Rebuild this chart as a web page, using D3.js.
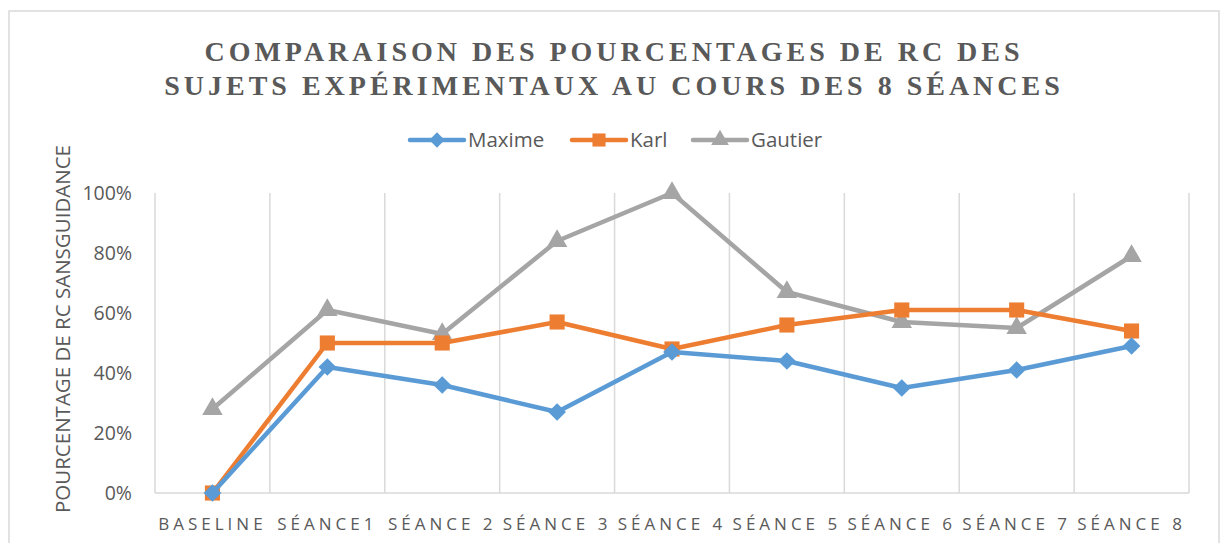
<!DOCTYPE html>
<html>
<head>
<meta charset="utf-8">
<script src="https://cdn.jsdelivr.net/npm/d3@7"></script>
<style>
  body { margin: 0; background: #fff; }
  svg { display: block; }
</style>
</head>
<body>
<div id="chart"></div>
<script>
// categories and series
var categories = ["BASELINE", "SÉANCE1", "SÉANCE 2", "SÉANCE 3", "SÉANCE 4", "SÉANCE 5", "SÉANCE 6", "SÉANCE 7", "SÉANCE 8"];
var maxime = [0, 42, 36, 27, 47, 44, 35, 41, 49];
var karl = [0, 50, 50, 57, 48, 56, 61, 61, 54];
var gautier = [28, 61, 53, 84, 100, 67, 57, 55, 79];
var yTicks = [0, 20, 40, 60, 80, 100];
var seriesNames = ["Maxime", "Karl", "Gautier"];

var width = 1224, height = 543;
var margin = {left: 155, right: 35, top: 193, bottom: 50};

var svg = d3.select("#chart").append("svg")
  .attr("width", width)
  .attr("height", height);

// chart border
svg.append("rect")
  .attr("x", 9).attr("y", 11)
  .attr("width", 1210).attr("height", 560)
  .attr("fill", "none")
  .attr("stroke", "#d9d9d9")
  .attr("stroke-width", 1.5);

// title
var title = svg.append("text")
  .attr("text-anchor", "middle")
  .style("font-family", "'Liberation Serif', 'Times New Roman', serif")
  .style("font-weight", "bold")
  .style("font-size", "28px")
  .style("letter-spacing", "4px")
  .attr("fill", "#595959");
title.append("tspan").attr("x", 614).attr("y", 61).text("COMPARAISON DES POURCENTAGES DE RC DES");
title.append("tspan").attr("x", 614).attr("y", 95).text("SUJETS EXPÉRIMENTAUX AU COURS DES 8 SÉANCES");

var x = d3.scaleBand()
  .domain(categories)
  .range([margin.left, width - margin.right]);

var y = d3.scaleLinear()
  .domain([0, 100])
  .range([height - margin.bottom, margin.top]);

// vertical gridlines at band edges
var edges = categories.map(function(c) { return x(c); }).concat([x.range()[1]]);
svg.selectAll(".vgrid")
  .data(edges)
  .enter().append("line")
  .attr("x1", function(d) { return d; })
  .attr("x2", function(d) { return d; })
  .attr("y1", y(100))
  .attr("y2", y(0))
  .attr("stroke", "#d9d9d9")
  .attr("stroke-width", 1.5);

// bottom axis line
svg.append("line")
  .attr("x1", x.range()[0]).attr("x2", x.range()[1])
  .attr("y1", y(0)).attr("y2", y(0))
  .attr("stroke", "#d9d9d9")
  .attr("stroke-width", 1.5);

// y tick labels
svg.selectAll(".ytick")
  .data(yTicks)
  .enter().append("text")
  .attr("x", 132)
  .attr("y", function(d) { return y(d); })
  .attr("dy", "0.35em")
  .attr("text-anchor", "end")
  .style("font-family", "'Open Sans', 'Noto Sans', sans-serif")
  .style("font-size", "19.5px")
  .attr("fill", "#595959")
  .text(function(d) { return d + "%"; });

// x labels
svg.selectAll(".xlab")
  .data(categories)
  .enter().append("text")
  .attr("x", function(d) { return x(d) + x.bandwidth() / 2; })
  .attr("y", 530)
  .attr("text-anchor", "middle")
  .style("font-family", "'Open Sans', 'Noto Sans', sans-serif")
  .style("font-size", "17px")
  .style("letter-spacing", "4px")
  .attr("fill", "#595959")
  .text(function(d) { return d; });

// y axis title
svg.append("text")
  .attr("transform", "translate(70," + 329 + ") rotate(-90)")
  .attr("text-anchor", "middle")
  .style("font-family", "'Open Sans', 'Noto Sans', sans-serif")
  .style("font-size", "20.5px")
  .attr("fill", "#595959")
  .text("POURCENTAGE DE RC SANSGUIDANCE");

var colors = {Maxime: "#5b9bd5", Karl: "#ed7d31", Gautier: "#a5a5a5"};
var symbols = {Maxime: d3.symbolDiamond2, Karl: d3.symbolSquare2, Gautier: d3.symbolTriangle2};
var symbolSize = {Maxime: 200, Karl: 290, Gautier: 300};
var seriesData = {Maxime: maxime, Karl: karl, Gautier: gautier};

var line = d3.line()
  .x(function(d, i) { return x(categories[i]) + x.bandwidth() / 2; })
  .y(function(d) { return y(d); });

// draw Gautier first, then Karl, then Maxime on top
["Gautier", "Karl", "Maxime"].forEach(function(name) {
  var vals = seriesData[name];
  svg.append("path")
    .datum(vals)
    .attr("d", line)
    .attr("fill", "none")
    .attr("stroke", colors[name])
    .attr("stroke-width", 4.5)
    .attr("stroke-linejoin", "round");
  svg.selectAll(".pt-" + name)
    .data(vals)
    .enter().append("path")
    .attr("d", d3.symbol().type(symbols[name]).size(symbolSize[name]))
    .attr("transform", function(d, i) {
      return "translate(" + (x(categories[i]) + x.bandwidth() / 2) + "," + y(d) + ")";
    })
    .attr("fill", colors[name]);
});

// legend
var legendX = [410, 572, 693];
seriesNames.forEach(function(name, i) {
  var g = svg.append("g").attr("transform", "translate(" + legendX[i] + ",140)");
  g.append("line")
    .attr("x1", 0).attr("x2", 54)
    .attr("y1", 0).attr("y2", 0)
    .attr("stroke", colors[name])
    .attr("stroke-width", 4.5)
    .attr("stroke-linecap", "round");
  g.append("path")
    .attr("d", d3.symbol().type(symbols[name]).size(symbolSize[name] * 0.75))
    .attr("transform", "translate(27,0)")
    .attr("fill", colors[name]);
  g.append("text")
    .attr("x", 58)
    .attr("y", 0)
    .attr("dy", "0.35em")
    .style("font-family", "'Open Sans', 'Noto Sans', sans-serif")
    .style("font-size", "20.5px")
    .attr("fill", "#595959")
    .text(name);
});
</script>
</body>
</html>
